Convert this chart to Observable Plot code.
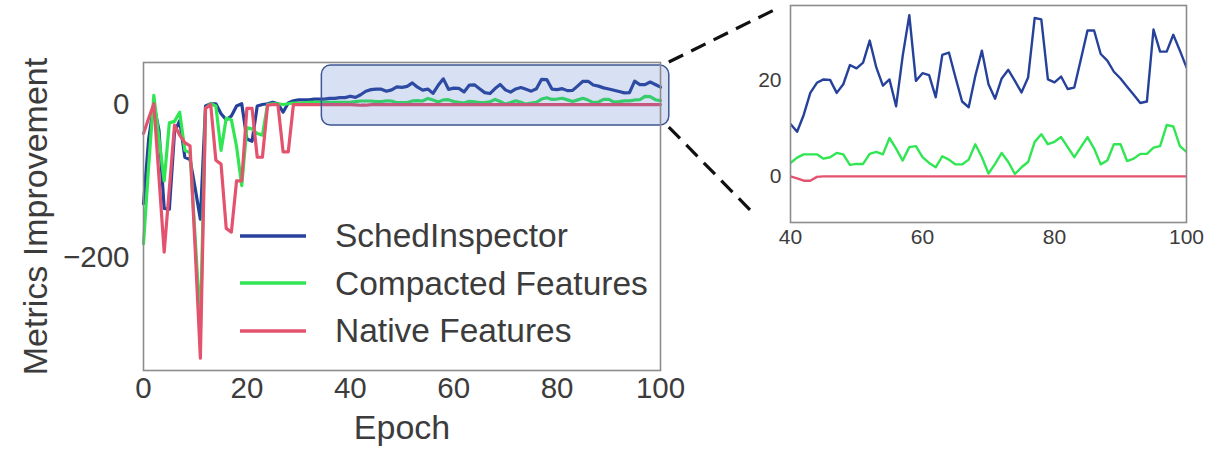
<!DOCTYPE html>
<html><head><meta charset="utf-8">
<script src="https://cdn.jsdelivr.net/npm/d3@7"></script>
<script src="https://cdn.jsdelivr.net/npm/@observablehq/plot@0.6"></script>
<style>
body{margin:0;background:#fff;font-family:"Liberation Sans",Arial,sans-serif;}
#fig{position:relative;width:1218px;height:449px;overflow:hidden;background:#fff;}
#main,#inset,#legend,#overlay{position:absolute;left:0;top:0;}
#overlay{pointer-events:none;}
</style></head><body>
<div id="fig"><div id="main"></div><div id="inset"></div><div id="legend"></div><svg id="overlay" width="1218" height="449"></svg></div>
<script>
const epochs = d3.range(0, 101);
const schedInspector = [
 -130,-45,0,-34,-136,-137,-36,-21,-69,-72,
 -110,-150,-2,1,1,-12,-20,-15,-2,1,
 -45,-48,-2,0,1,3,1,-10,2,5,
 6,6,6,7,7,7,8,8,9,9,
 10.9,9.3,12.8,17.4,19.5,20.2,20.1,17.4,19.2,23.2,
 22.5,23.7,28.3,22.7,18.9,20.2,14.6,25.1,33.6,19.9,
 21.5,21.1,16.5,25.3,25.8,20.6,15.6,14.4,20.9,26.2,
 19.2,16.2,20.4,22.2,19.9,17.5,20.6,33.0,32.7,20.2,
 19.6,20.8,18.2,18.5,24.4,30.4,30.4,25.5,24.1,21.8,
 20.4,18.7,17.0,15.3,15.6,30.6,26.0,26.0,29.5,26.2,22.7];
const compactedFeatures = [
 -182,-80,12,-45,-100,-24,-22,-10,-60,-63,
 -175,-290,-5,1,-2,-60,-18,-20,-55,-106,
 -30,-32,-38,-40,0,1,1,0,1,2,
 2,2,3,3,3,3,3,3,3,3,
 2.8,3.9,4.6,4.6,4.6,3.7,4.0,4.9,4.6,2.4,
 2.6,2.6,4.7,5.1,4.6,8.0,5.8,3.3,6.1,6.3,
 4.0,2.8,1.9,4.2,3.5,2.5,2.5,3.5,6.7,4.0,
 0.6,2.6,4.9,3.0,0.5,1.9,3.0,7.2,8.8,6.7,
 7.2,8.2,6.1,4.0,6.1,8.2,5.8,2.5,3.3,6.7,
 6.7,3.2,3.7,4.7,4.7,6.0,6.3,10.7,10.4,6.3,5.1];
const nativeFeatures = [
 -38,-18,1,-96,-193,-110,-27,-40,-50,-54,
 -190,-332,-5,0,-73,-78,-162,-167,-100,-100,
 -5,-5,-69,-69,-1,0,0,-62,-62,0,
 0,0,0,0,0,0,0,0,0,0,
 0,-0.4,-0.9,-0.9,-0.1,0,0,0,0,0,
 0,0,0,0,0,0,0,0,0,0,
 0,0,0,0,0,0,0,0,0,0,
 0,0,0,0,0,0,0,0,0,0,
 0,0,0,0,0,0,0,0,0,0,
 0,0,0,0,0,0,0,0,0,0,0];
const seriesNames = ["SchedInspector", "Compacted Features", "Native Features"];
const seriesColors = ["#26419a", "#30e653", "#e4536e"];
const mainXTicks = [0, 20, 40, 60, 80, 100];
const mainYTicks = [-200, 0];
const mainXDomain = [0, 100];
const mainYDomain = [-348, 55];
const insetXTicks = [40, 60, 80, 100];
const insetYTicks = [0, 20];
const insetXDomain = [40, 100];
const insetYDomain = [-9.6, 35.6];
const zoomBoxX = [34.5, 101.7];
const zoomBoxY = [-27.5, 51];
const xLabel = "Epoch";
const yLabel = "Metrics Improvement";

const seriesValues = [schedInspector, compactedFeatures, nativeFeatures];
const rows = seriesNames.flatMap((name, s) => epochs.map((e, i) => ({epoch: e, value: seriesValues[s][i], series: name})));
const fmt = d => d < 0 ? "\u2212" + Math.abs(d) : String(d);
const FONT = "Liberation Sans, Arial, Helvetica, sans-serif";
const TXT = "#3c3c3c";

const main = Plot.plot({
  width: 700, height: 449,
  marginLeft: 143, marginRight: 40, marginTop: 62, marginBottom: 79,
  style: {fontFamily: FONT, fontSize: "29.5px", color: TXT, background: "transparent", overflow: "visible"},
  x: {domain: mainXDomain, ticks: mainXTicks, tickSize: 0, tickPadding: 7, label: null, tickFormat: fmt},
  y: {domain: mainYDomain, ticks: mainYTicks, tickSize: 0, tickPadding: 14, label: null, tickFormat: fmt},
  color: {domain: seriesNames, range: seriesColors},
  marks: [
    Plot.line(rows, {x: "epoch", y: "value", z: "series", stroke: "series", strokeWidth: 3.2, strokeLinejoin: "round"}),
    Plot.rect([{x1: zoomBoxX[0], x2: zoomBoxX[1], y1: zoomBoxY[0], y2: zoomBoxY[1]}],
      {x1: "x1", x2: "x2", y1: "y1", y2: "y2", fill: "#4f74c8", fillOpacity: 0.22, stroke: "#3d5694", strokeWidth: 1.5, rx: 9}),
    Plot.frame({stroke: "#8c8c8c", strokeWidth: 1.6}),
    Plot.text([xLabel], {frameAnchor: "bottom", lineAnchor: "middle", dy: 58, fontSize: 34, fill: TXT}),
    Plot.text([yLabel], {frameAnchor: "left", textAnchor: "middle", dx: -107, rotate: -90, fontSize: 34, fill: TXT})
  ]
});
document.getElementById("main").appendChild(main);

const insetLeft = 730;
const inset = Plot.plot({
  width: 488, height: 252,
  marginLeft: 60, marginRight: 32, marginTop: 5, marginBottom: 30,
  style: {fontFamily: FONT, fontSize: "21px", color: TXT, background: "transparent", overflow: "visible"},
  x: {domain: insetXDomain, ticks: insetXTicks, tickSize: 0, tickPadding: 7, label: null, tickFormat: fmt},
  y: {domain: insetYDomain, ticks: insetYTicks, tickSize: 0, tickPadding: 9, label: null, tickFormat: fmt},
  color: {domain: seriesNames, range: seriesColors},
  marks: [
    Plot.line(rows.filter(d => d.epoch >= insetXDomain[0]), {x: "epoch", y: "value", z: "series", stroke: "series", strokeWidth: 2.4, strokeLinejoin: "round", clip: true}),
    Plot.frame({stroke: "#8c8c8c", strokeWidth: 1.6})
  ]
});
const insetDiv = document.getElementById("inset");
insetDiv.style.left = insetLeft + "px";
insetDiv.appendChild(inset);

// legend
const legend = d3.select("#legend").style("left", "240px").style("top", "212px");
seriesNames.forEach((name, i) => {
  const row = legend.append("div").style("display", "flex").style("align-items", "center").style("height", "47.5px");
  const sw = row.append("svg").attr("width", 66).attr("height", 6);
  sw.append("line").attr("x1", 0).attr("x2", 66).attr("y1", 3).attr("y2", 3).attr("stroke", seriesColors[i]).attr("stroke-width", 3.4);
  row.append("span").style("margin-left", "29px").style("font-size", "33.5px").style("line-height", "1").style("color", TXT).style("font-family", FONT).text(name);
});

// connector lines from zoom box to inset
const mx = main.scale("x"), my = main.scale("y");
const ix = inset.scale("x"), iy = inset.scale("y");
const boxRight = mx.apply(zoomBoxX[1]);
const boxTop = my.apply(zoomBoxY[1]), boxBottom = my.apply(zoomBoxY[0]);
const insL = insetLeft + ix.apply(insetXDomain[0]);
const insT = iy.apply(insetYDomain[1]), insB = iy.apply(insetYDomain[0]);
const connectors = [
  [[boxRight, boxTop - 3], [insL - 12, insT + 3]],
  [[boxRight, boxBottom + 2], [insL - 35, insB - 7]]
];
const ov = d3.select("#overlay");
connectors.forEach(([a, b]) => {
  ov.append("line").attr("x1", a[0]).attr("y1", a[1]).attr("x2", b[0]).attr("y2", b[1])
    .attr("stroke", "#111").attr("stroke-width", 3.2).attr("stroke-dasharray", "16,9");
});
</script>
</body></html>
